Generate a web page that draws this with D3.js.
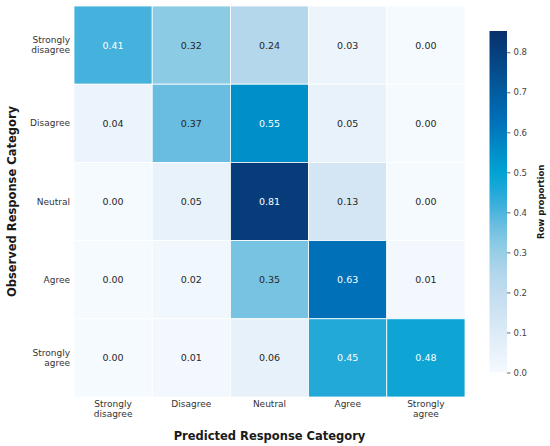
<!DOCTYPE html>
<html>
<head>
<meta charset="utf-8">
<script src="https://cdn.jsdelivr.net/npm/d3@7"></script>
<style>
  html, body { margin: 0; padding: 0; background: #fff; }
  svg { display: block; font-family: "DejaVu Sans", sans-serif; }
</style>
</head>
<body>
<svg id="chart" width="550" height="446"></svg>
<script>
// ---- data ----
const observed = ["Strongly\ndisagree", "Disagree", "Neutral", "Agree", "Strongly\nagree"];
const predicted = ["Strongly\ndisagree", "Disagree", "Neutral", "Agree", "Strongly\nagree"];
const rowStronglyDisagree = [0.41, 0.32, 0.24, 0.03, 0.00];
const rowDisagree         = [0.04, 0.37, 0.55, 0.05, 0.00];
const rowNeutral          = [0.00, 0.05, 0.81, 0.13, 0.00];
const rowAgree            = [0.00, 0.02, 0.35, 0.63, 0.01];
const rowStronglyAgree    = [0.00, 0.01, 0.06, 0.45, 0.48];
const colorbarTicks = [0.0, 0.1, 0.2, 0.3, 0.4, 0.5, 0.6, 0.7, 0.8];
const vmin = 0, vmax = 0.853;

const matrix = [rowStronglyDisagree, rowDisagree, rowNeutral, rowAgree, rowStronglyAgree];
const cells = [];
matrix.forEach((row, i) => row.forEach((v, j) => cells.push({ r: observed[i], c: predicted[j], ri: i, ci: j, v })));

// ---- layout ----
const svg = d3.select("#chart");
const hm = { x0: 74, x1: 465, y0: 6, y1: 397 };
const x = d3.scaleBand().domain(d3.range(predicted.length)).range([hm.x0, hm.x1]);
const y = d3.scaleBand().domain(d3.range(observed.length)).range([hm.y0, hm.y1]);

const color = d3.scaleLinear()
  .domain([0, 0.13, 0.24, 0.32, 0.37, 0.41, 0.45, 0.5, 0.63, 0.853])
  .range(["#f5faff", "#d4e6f4", "#b5d7ec", "#8ccbe4", "#68bde0", "#44b2dc", "#22a9d8", "#00a3d3", "#0070b8", "#08306b"])
  .interpolate(d3.interpolateRgb)
  .clamp(true);

// cells
svg.append("g").selectAll("rect").data(cells).join("rect")
  .attr("x", d => x(d.ci))
  .attr("y", d => y(d.ri))
  .attr("width", x.bandwidth())
  .attr("height", y.bandwidth())
  .attr("fill", d => color(d.v))
  .attr("stroke", "#ffffff")
  .attr("stroke-width", 0.8);

// annotations
svg.append("g").selectAll("text").data(cells).join("text")
  .attr("x", d => x(d.ci) + x.bandwidth() / 2)
  .attr("y", d => y(d.ri) + y.bandwidth() / 2)
  .attr("text-anchor", "middle")
  .attr("dominant-baseline", "central")
  .attr("font-size", 9.5)
  .attr("fill", d => d.v >= 0.4 ? "#ffffff" : "#262626")
  .text(d => d.v.toFixed(2));

// y tick labels
const lineH = 10;
const yl = svg.append("g").selectAll("text").data(observed).join("text")
  .attr("text-anchor", "end")
  .attr("font-size", 9)
  .attr("fill", "#333333");
yl.each(function(d, i) {
  const lines = d.split("\n");
  const cy = y(i) + y.bandwidth() / 2;
  const start = cy - (lines.length - 1) * lineH / 2;
  d3.select(this).selectAll("tspan").data(lines).join("tspan")
    .attr("x", 70)
    .attr("y", (l, k) => start + k * lineH)
    .attr("dominant-baseline", "central")
    .text(l => l);
});

// x tick labels
const xl = svg.append("g").selectAll("text").data(predicted).join("text")
  .attr("text-anchor", "middle")
  .attr("font-size", 9)
  .attr("fill", "#333333");
xl.each(function(d, i) {
  const lines = d.split("\n");
  const cx = x(i) + x.bandwidth() / 2;
  d3.select(this).selectAll("tspan").data(lines).join("tspan")
    .attr("x", cx)
    .attr("y", (l, k) => 404 + k * lineH)
    .attr("dominant-baseline", "central")
    .text(l => l);
});

// axis titles
svg.append("text")
  .attr("x", (hm.x0 + hm.x1) / 2)
  .attr("y", 436)
  .attr("text-anchor", "middle")
  .attr("dominant-baseline", "central")
  .attr("font-size", 11.5)
  .attr("font-weight", "bold")
  .attr("fill", "#1a1a1a")
  .text("Predicted Response Category");

svg.append("text")
  .attr("transform", `translate(12,${(hm.y0 + hm.y1) / 2}) rotate(-90)`)
  .attr("text-anchor", "middle")
  .attr("dominant-baseline", "central")
  .attr("font-size", 11.5)
  .attr("font-weight", "bold")
  .attr("fill", "#1a1a1a")
  .text("Observed Response Category");

// colorbar
const cb = { x0: 489.5, x1: 507, y0: 31, y1: 372.5 };
const cbScale = d3.scaleLinear().domain([vmin, vmax]).range([cb.y1, cb.y0]);
const defs = svg.append("defs");
const grad = defs.append("linearGradient").attr("id", "cbgrad")
  .attr("x1", "0").attr("y1", "1").attr("x2", "0").attr("y2", "0");
const nStops = 60;
grad.selectAll("stop").data(d3.range(nStops + 1)).join("stop")
  .attr("offset", k => (k / nStops))
  .attr("stop-color", k => color(vmin + (vmax - vmin) * k / nStops));
svg.append("rect")
  .attr("x", cb.x0).attr("y", cb.y0)
  .attr("width", cb.x1 - cb.x0).attr("height", cb.y1 - cb.y0)
  .attr("fill", "url(#cbgrad)");

const cbAxis = svg.append("g")
  .attr("transform", `translate(${cb.x1},0)`)
  .call(d3.axisRight(cbScale).tickValues(colorbarTicks).tickFormat(d3.format(".1f")).tickSize(3.5).tickPadding(3));
cbAxis.select(".domain").remove();
cbAxis.selectAll(".tick line").attr("stroke", "#444444").attr("stroke-width", 0.8);
cbAxis.selectAll(".tick text").attr("font-size", 8.5).attr("fill", "#444444")
  .attr("font-family", "DejaVu Sans, sans-serif");

svg.append("text")
  .attr("transform", `translate(540.5,${(cb.y0 + cb.y1) / 2}) rotate(-90)`)
  .attr("text-anchor", "middle")
  .attr("dominant-baseline", "central")
  .attr("font-size", 8.5)
  .attr("font-weight", "bold")
  .attr("fill", "#1a1a1a")
  .text("Row proportion");
</script>
</body>
</html>
